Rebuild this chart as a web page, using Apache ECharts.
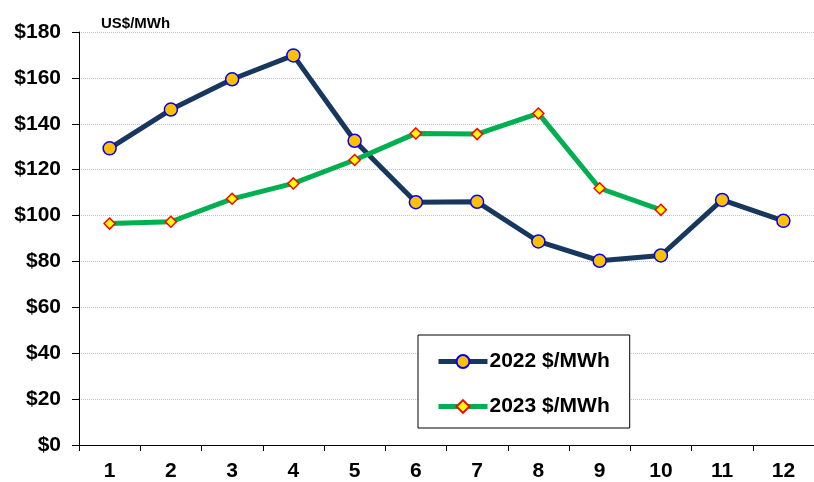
<!DOCTYPE html>
<html>
<head>
<meta charset="utf-8">
<script src="https://cdn.jsdelivr.net/npm/echarts@6/dist/echarts.min.js"></script>
<style>html,body{margin:0;padding:0;background:#fff}#c{width:814px;height:482px}</style>
</head>
<body>
<div id="c"></div>
<script>
const months = ['1','2','3','4','5','6','7','8','9','10','11','12'];
const series2022 = [129.3, 146.2, 159.4, 169.8, 132.6, 105.8, 106, 88.7, 80.3, 82.6, 106.8, 97.7];
const series2023 = [96.5, 97.3, 107.3, 114, 124.2, 135.8, 135.5, 144.5, 111.9, 102.5];
const yTicks = {min: 0, max: 180, interval: 20};
const unitLabel = 'US$/MWh';

const font = 'Liberation Sans, Arial, sans-serif';
const chart = echarts.init(document.getElementById('c'));
chart.setOption({
  animation: false,
  textStyle: {fontFamily: font},
  title: {
    text: unitLabel, left: 96, top: 11,
    textStyle: {fontSize: 15, fontWeight: 'bold', color: '#000', fontFamily: font}
  },
  grid: {left: 79, top: 32, width: 744, bottom: 36, containLabel: false},
  legend: {
    orient: 'vertical', left: 418, top: 335,
    padding: [16, 20, 11, 18], itemGap: 24, itemWidth: 49, itemHeight: 16,
    borderColor: '#000', borderWidth: 1, backgroundColor: '#fff',
    lineStyle: {width: 5},
    textStyle: {fontSize: 21, fontWeight: 'bold', color: '#000', fontFamily: font, padding: [0, 0, 0, -3]},
    data: ['2022 $/MWh', '2023 $/MWh']
  },
  xAxis: {
    type: 'category', data: months, boundaryGap: true,
    axisLine: {lineStyle: {color: '#000', width: 1}},
    axisTick: {show: true, length: 6, lineStyle: {color: '#000'}},
    axisLabel: {fontSize: 21, fontWeight: 'bold', color: '#000', margin: 16, fontFamily: font},
    splitLine: {show: false}
  },
  yAxis: {
    type: 'value', min: yTicks.min, max: yTicks.max, interval: yTicks.interval,
    axisLine: {show: true, lineStyle: {color: '#000', width: 1}},
    axisTick: {show: true, length: 7, lineStyle: {color: '#000'}},
    axisLabel: {fontSize: 21, fontWeight: 'bold', color: '#000', margin: 18, fontFamily: font,
      formatter: v => '$' + v},
    splitLine: {show: true, lineStyle: {color: '#c4c4c4', type: 'dotted', width: 1}}
  },
  series: [
    {
      name: '2022 $/MWh', type: 'line', data: series2022,
      lineStyle: {color: '#17375E', width: 5},
      itemStyle: {color: '#FFC000', borderColor: '#0000FF', borderWidth: 1.5},
      symbol: 'circle', symbolSize: 13, showAllSymbol: true, z: 2
    },
    {
      name: '2023 $/MWh', type: 'line', data: series2023,
      lineStyle: {color: '#00B050', width: 5},
      itemStyle: {color: '#FFFF00', borderColor: '#FF0000', borderWidth: 1.5},
      symbol: 'diamond', symbolSize: 11, showAllSymbol: true, z: 3
    }
  ]
});
</script>
</body>
</html>
